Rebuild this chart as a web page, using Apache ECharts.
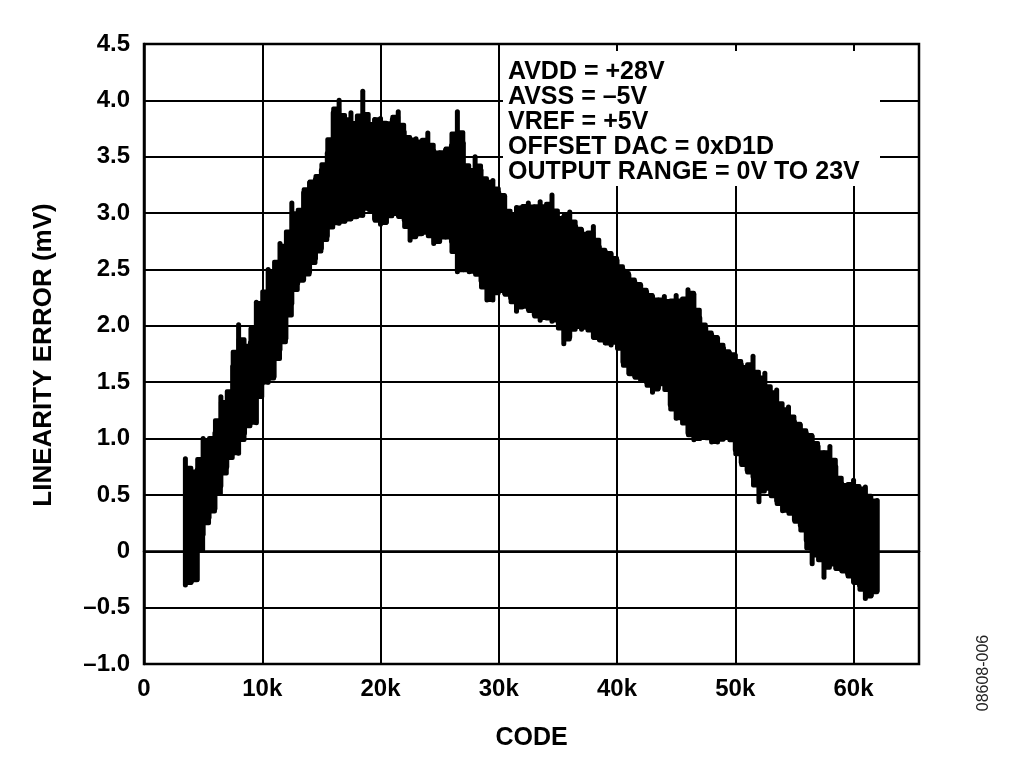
<!DOCTYPE html>
<html>
<head>
<meta charset="utf-8">
<script src="https://cdn.jsdelivr.net/npm/echarts@6/dist/echarts.min.js"></script>
<style>
html,body{margin:0;padding:0;background:#fff;}
#chart{width:1024px;height:779px;}
</style>
</head>
<body>
<div id="chart"></div>
<script>
// DAC code samples (x)
const codes = [
  3500,4000,4500,5000,5500,6000,6500,7000,7500,8000,
  8500,9000,9500,10000,10500,11000,11500,12000,12500,13000,
  13500,14000,14500,15000,15500,16000,16500,17000,17500,18000,
  18500,19000,19500,20000,20500,21000,21500,22000,22500,23000,
  23500,24000,24500,25000,25500,26000,26500,27000,27500,28000,
  28500,29000,29500,30000,30500,31000,31500,32000,32500,33000,
  33500,34000,34500,35000,35500,36000,36500,37000,37500,38000,
  38500,39000,39500,40000,40500,41000,41500,42000,42500,43000,
  43500,44000,44500,45000,45500,46000,46500,47000,47500,48000,
  48500,49000,49500,50000,50500,51000,51500,52000,52500,53000,
  53500,54000,54500,55000,55500,56000,56500,57000,57500,58000,
  58500,59000,59500,60000,60500,61000,61500,62000
];
// upper extreme of linearity error (mV) in each code bin
const errHigh = [
  0.82,0.70,0.72,1.00,0.98,1.05,1.37,1.30,1.64,2.01,
  1.81,1.85,2.21,2.20,2.50,2.48,2.73,2.70,3.09,2.95,
  3.18,3.27,3.30,3.38,3.53,3.89,4.00,3.80,3.89,3.75,
  4.08,3.77,3.83,3.84,3.78,3.83,3.90,3.72,3.65,3.66,
  3.62,3.71,3.55,3.53,3.56,3.60,3.90,3.62,3.32,3.50,
  3.38,3.27,3.29,3.18,3.15,2.95,3.05,3.05,3.09,3.04,
  3.10,3.04,3.16,2.95,2.97,3.01,2.88,2.85,2.80,2.88,
  2.70,2.66,2.64,2.58,2.50,2.45,2.39,2.36,2.30,2.26,
  2.22,2.26,2.20,2.27,2.20,2.32,2.28,2.07,1.98,1.92,
  1.89,1.80,1.76,1.74,1.66,1.62,1.73,1.52,1.58,1.40,
  1.43,1.25,1.28,1.15,1.12,1.05,1.02,0.93,0.85,0.93,
  0.75,0.60,0.58,0.63,0.55,0.57,0.45,0.45
];
// lower extreme of linearity error (mV) in each code bin
const errLow = [
  -0.30,-0.27,-0.25,0.15,0.30,0.38,0.58,0.75,0.87,0.87,
  1.05,1.14,1.14,1.49,1.50,1.55,1.79,1.89,2.20,2.38,
  2.41,2.48,2.60,2.69,2.80,2.91,2.91,2.93,2.95,2.97,
  2.98,3.07,2.95,2.90,2.92,3.00,2.98,2.94,2.76,2.80,
  2.82,2.83,2.73,2.75,2.80,2.75,2.48,2.50,2.48,2.48,
  2.40,2.23,2.23,2.32,2.29,2.25,2.13,2.18,2.15,2.10,
  2.05,2.08,2.04,2.05,1.84,1.90,2.00,1.97,1.99,1.90,
  1.88,1.85,1.83,1.86,1.68,1.58,1.55,1.52,1.50,1.41,
  1.45,1.50,1.30,1.18,1.18,1.05,0.99,1.00,1.02,0.97,
  0.97,1.00,1.03,0.90,0.79,0.72,0.66,0.44,0.58,0.51,
  0.45,0.36,0.36,0.28,0.23,0.10,-0.11,0.00,-0.23,-0.10,
  -0.15,-0.17,-0.20,-0.27,-0.30,-0.42,-0.39,-0.35
];
const xTicks = [0,10000,20000,30000,40000,50000,60000];
const annotation = [
  'AVDD = +28V',
  'AVSS = \u20135V',
  'VREF = +5V',
  'OFFSET DAC = 0xD1D',
  'OUTPUT RANGE = 0V TO 23V'
];

const FONT = '"Liberation Sans", Arial, Helvetica, sans-serif';

// build custom-series items: this bin plus the next bin
const items = codes.map((c, i) => {
  const j = Math.min(i + 1, codes.length - 1);
  return [c, errHigh[i], errLow[i], codes[j], errHigh[j], errLow[j]];
});

const chart = echarts.init(document.getElementById('chart'), null, {renderer: 'canvas'});

const option = {
  animation: false,
  backgroundColor: '#fff',
  grid: {left: 144, top: 44, width: 775, height: 620, show: true, borderColor: '#000', borderWidth: 2.5, backgroundColor: 'transparent'},
  xAxis: {
    type: 'value', min: 0, max: 65535, interval: 10000,
    axisLine: {show: true, lineStyle: {color: '#000', width: 2.5}},
    axisTick: {show: false},
    splitLine: {show: true, lineStyle: {color: '#000', width: 2}},
    axisLabel: {
      showMaxLabel: false,
      color: '#000', fontFamily: FONT, fontWeight: 'bold', fontSize: 24, margin: 13,
      formatter: v => (xTicks.indexOf(v) < 0 ? '' : (v === 0 ? '0' : (v / 1000) + 'k'))
    }
  },
  yAxis: {
    type: 'value', min: -1, max: 4.5, interval: 0.5,
    axisLine: {show: true, lineStyle: {color: '#000', width: 2.5}},
    axisTick: {show: false},
    splitLine: {show: true, lineStyle: {color: '#000', width: 2}},
    axisLabel: {
      color: '#000', fontFamily: FONT, fontWeight: 'bold', fontSize: 24, margin: 14,
      formatter: v => (Math.abs(v) < 1e-9 ? '0' : (v < 0 ? '\u2013' + Math.abs(v).toFixed(1) : v.toFixed(1)))
    }
  },
  series: [{
    type: 'custom',
    data: items,
    encode: {x: [0, 3], y: [1, 2, 4, 5]},
    clip: true,
    renderItem: function (params, api) {
      const c0 = api.value(0), h0 = api.value(1), l0 = api.value(2);
      const c1 = api.value(3), h1 = api.value(4), l1 = api.value(5);
      const top = api.coord([c0, h0]);
      const bot = api.coord([c0, l0]);
      const children = [{
        type: 'line',
        shape: {x1: top[0], y1: top[1], x2: bot[0], y2: bot[1]},
        style: {stroke: '#000', lineWidth: 5, lineCap: 'round'}
      }];
      if (c1 > c0) {
        // core of the band: between the lower of the two tops (lifted a little) and the higher of the two bottoms (lowered a little)
        const t = Math.min(h0, h1) + 0.35 * Math.abs(h0 - h1);
        const b = Math.max(l0, l1) - 0.35 * Math.abs(l0 - l1);
        const a1 = api.coord([c0, t]), a2 = api.coord([c1, t]);
        const a3 = api.coord([c1, b]), a4 = api.coord([c0, b]);
        children.push({
          type: 'polygon',
          shape: {points: [a1, a2, a3, a4]},
          style: {fill: '#000', stroke: '#000', lineWidth: 4, lineJoin: 'round'}
        });
      }
      return {type: 'group', children: children};
    }
  }],
  graphic: [
    {type: 'rect', z: 100, shape: {x: 503, y: 51, width: 377, height: 135}, style: {fill: '#fff'}},
    {type: 'text', z: 101, x: 508, y: 59.5,
      style: {text: annotation.join('\n'), fill: '#000', font: 'bold 25px ' + FONT, lineHeight: 25, textAlign: 'left', textVerticalAlign: 'top'}},
    {type: 'text', z: 101, x: 531.5, y: 738,
      style: {text: 'CODE', fill: '#000', font: 'bold 25px ' + FONT, textAlign: 'center', textVerticalAlign: 'middle'}},
    {type: 'text', z: 101, x: 44, y: 355, rotation: Math.PI / 2,
      style: {text: 'LINEARITY ERROR (mV)', fill: '#000', font: 'bold 26px ' + FONT, textAlign: 'center', textVerticalAlign: 'middle'}},
    {type: 'text', z: 101, x: 984, y: 673, rotation: Math.PI / 2,
      style: {text: '08608-006', fill: '#222', font: '16px ' + FONT, textAlign: 'center', textVerticalAlign: 'middle'}}
  ]
};
chart.setOption(option);
</script>
</body>
</html>
